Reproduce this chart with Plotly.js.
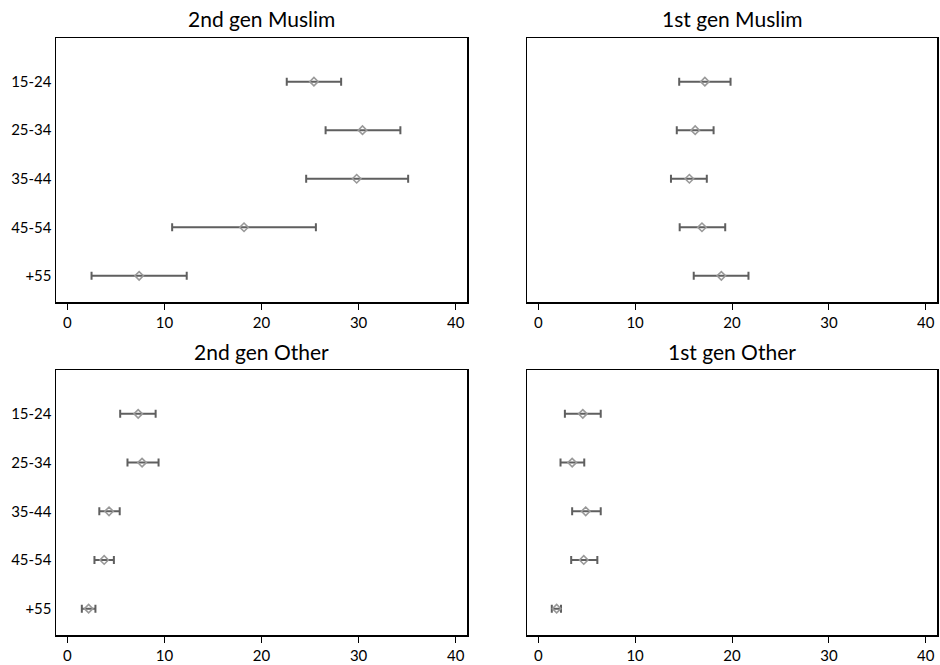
<!DOCTYPE html>
<html>
<head>
<meta charset="utf-8">
<script src="https://cdn.plot.ly/plotly-3.0.1.min.js"></script>
<style>html,body{margin:0;padding:0;background:#fff;}#chart{width:940px;height:665px;}</style>
</head>
<body>
<div id="chart"></div>
<script>
const ageGroups = ['15-24', '25-34', '35-44', '45-54', '+55'];
const panelTitles = ['2nd gen Muslim', '1st gen Muslim', '2nd gen Other', '1st gen Other'];

// estimates and confidence limits (percent)
const est2ndMuslim = [25.4, 30.4, 29.8, 18.2, 7.4];
const lo2ndMuslim  = [22.6, 26.6, 24.6, 10.8, 2.5];
const hi2ndMuslim  = [28.2, 34.3, 35.1, 25.6, 12.3];

const est1stMuslim = [17.2, 16.2, 15.6, 16.9, 18.9];
const lo1stMuslim  = [14.55, 14.3, 13.7, 14.6, 16.05];
const hi1stMuslim  = [19.85, 18.1, 17.4, 19.3, 21.7];

const est2ndOther = [7.3, 7.7, 4.3, 3.8, 2.2];
const lo2ndOther  = [5.45, 6.2, 3.3, 2.8, 1.5];
const hi2ndOther  = [9.1, 9.4, 5.4, 4.8, 2.9];

const est1stOther = [4.6, 3.5, 4.9, 4.7, 1.9];
const lo1stOther  = [2.75, 2.3, 3.5, 3.4, 1.4];
const hi1stOther  = [6.45, 4.75, 6.45, 6.1, 2.35];

const xTicks = [0, 10, 20, 30, 40];

const panels = [
  {est: est2ndMuslim, lo: lo2ndMuslim, hi: hi2ndMuslim, xa: 'x', ya: 'y'},
  {est: est1stMuslim, lo: lo1stMuslim, hi: hi1stMuslim, xa: 'x2', ya: 'y2'},
  {est: est2ndOther, lo: lo2ndOther, hi: hi2ndOther, xa: 'x3', ya: 'y3'},
  {est: est1stOther, lo: lo1stOther, hi: hi1stOther, xa: 'x4', ya: 'y4'}
];

const traces = panels.map(p => ({
  type: 'scatter',
  mode: 'markers',
  x: p.est,
  y: ageGroups,
  xaxis: p.xa,
  yaxis: p.ya,
  marker: {symbol: 'diamond-open', size: 6.5, color: '#999999', line: {width: 1.6, color: '#999999'}},
  error_x: {
    type: 'data', symmetric: false,
    array: p.hi.map((h, i) => h - p.est[i]),
    arrayminus: p.est.map((e, i) => e - p.lo[i]),
    color: '#5f5f5f', thickness: 2, width: 4
  },
  showlegend: false,
  hoverinfo: 'x+y'
}));

const fontFam = 'Lato, "Open Sans", sans-serif';
const xDomL = [56/940, 467/940], xDomR = [527/940, 937/940];
const yDomT = [1 - 302/665, 1 - 38/665], yDomB = [1 - 635/665, 1 - 370/665];

function xAxis(dom, anchor) {
  return {
    domain: dom, anchor: anchor, range: [-1.16, 41.16],
    tickmode: 'array', tickvals: xTicks, ticktext: xTicks.map(String),
    ticks: 'outside', ticklen: 6, tickwidth: 1, tickcolor: '#000',
    showline: true, linecolor: '#000', linewidth: 1.5, mirror: true,
    showgrid: false, zeroline: false,
    tickfont: {family: fontFam, size: 15, color: '#000'}
  };
}
function yAxis(dom, anchor, showLabels) {
  return {
    domain: dom, anchor: anchor, type: 'category',
    categoryorder: 'array', categoryarray: ageGroups.slice().reverse(),
    range: [-0.54, 4.9],
    showticklabels: showLabels, ticks: '',
    showline: true, linecolor: '#000', linewidth: 1.5, mirror: true,
    showgrid: false, zeroline: false,
    tickfont: {family: fontFam, size: 15, color: '#000'}
  };
}

const titleY = [1 - 18/665, 1 - 18/665, 1 - 352/665, 1 - 352/665];
const titleX = [(xDomL[0]+xDomL[1])/2, (xDomR[0]+xDomR[1])/2, (xDomL[0]+xDomL[1])/2, (xDomR[0]+xDomR[1])/2];

const layout = {
  width: 940, height: 665,
  margin: {l: 0, r: 0, t: 0, b: 0},
  paper_bgcolor: '#fff', plot_bgcolor: '#fff',
  xaxis: xAxis(xDomL, 'y'),
  yaxis: yAxis(yDomT, 'x', true),
  xaxis2: xAxis(xDomR, 'y2'),
  yaxis2: yAxis(yDomT, 'x2', false),
  xaxis3: xAxis(xDomL, 'y3'),
  yaxis3: yAxis(yDomB, 'x3', true),
  xaxis4: xAxis(xDomR, 'y4'),
  yaxis4: yAxis(yDomB, 'x4', false),
  annotations: panelTitles.map((t, i) => ({
    text: t, xref: 'paper', yref: 'paper', x: titleX[i], y: titleY[i],
    xanchor: 'center', yanchor: 'middle', showarrow: false,
    font: {family: fontFam, size: 21, color: '#000'}
  }))
};

Plotly.newPlot('chart', traces, layout, {displayModeBar: false, staticPlot: true});
</script>
</body>
</html>
